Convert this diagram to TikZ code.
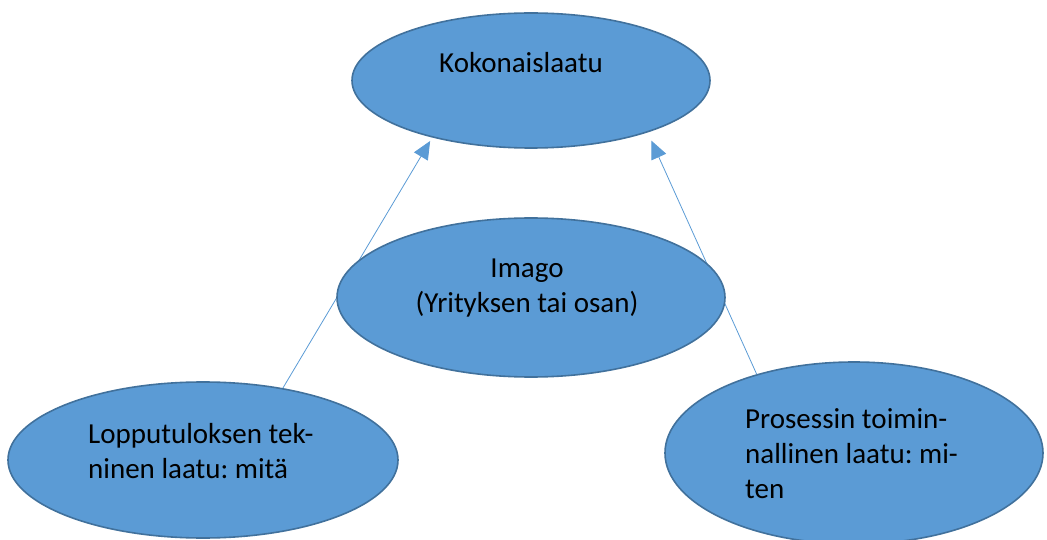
\documentclass[tikz,border=0pt]{standalone}
\usepackage{fontspec}
\setmainfont{Carlito}
\frenchspacing
\usetikzlibrary{shapes.geometric,arrows.meta}
\definecolor{ovalfill}{HTML}{5B9BD5}
\definecolor{ovaledge}{HTML}{41719C}
\tikzset{
  oval/.style={ellipse, draw=ovaledge, fill=ovalfill, line width=1.6pt, inner sep=0pt},
  ovaltext/.style={font=\fontsize{29}{35}\selectfont, inner sep=0pt, text=black},
  link/.style={draw=ovalfill, line width=0.8pt, -{Triangle[length=18pt,width=16pt]}}
}
\begin{document}
\begin{tikzpicture}[x=1pt,y=-1pt]
    \useasboundingbox (0,0) rectangle (1047,540);
    % outer ovals
    \node[oval, minimum width=358pt, minimum height=135pt] (koko) at (531,80.5) {};
    \node[oval, minimum width=390pt, minimum height=156pt] (lopp) at (203,460) {};
    \node[oval, minimum width=378pt, minimum height=182pt] (pros) at (854,453) {};
    \node[ovaltext, anchor=base west] (kokot) at (439,73) {Kokonaislaatu};
    \node[ovaltext, anchor=base west, align=left] (loppt) at (88,478) {Lopputuloksen tek-\\ninen laatu: mitä};
    \node[ovaltext, anchor=base west, align=left] (prost) at (745,498) {Prosessin toimin-\\nallinen laatu: mi-\\ten};
    % links run behind the middle oval
    \draw[link, shorten >=4pt] (lopp.42) -- (koko.210);
    \draw[link, shorten >=9pt] (pros.141) -- (koko.336);
    \node[oval, minimum width=388pt, minimum height=159pt] (imago) at (531,297.5) {};
    \node[ovaltext, anchor=base, align=center] (imagot) at (527,312) {Imago\\(Yrityksen tai osan)};
\end{tikzpicture}
\end{document}
